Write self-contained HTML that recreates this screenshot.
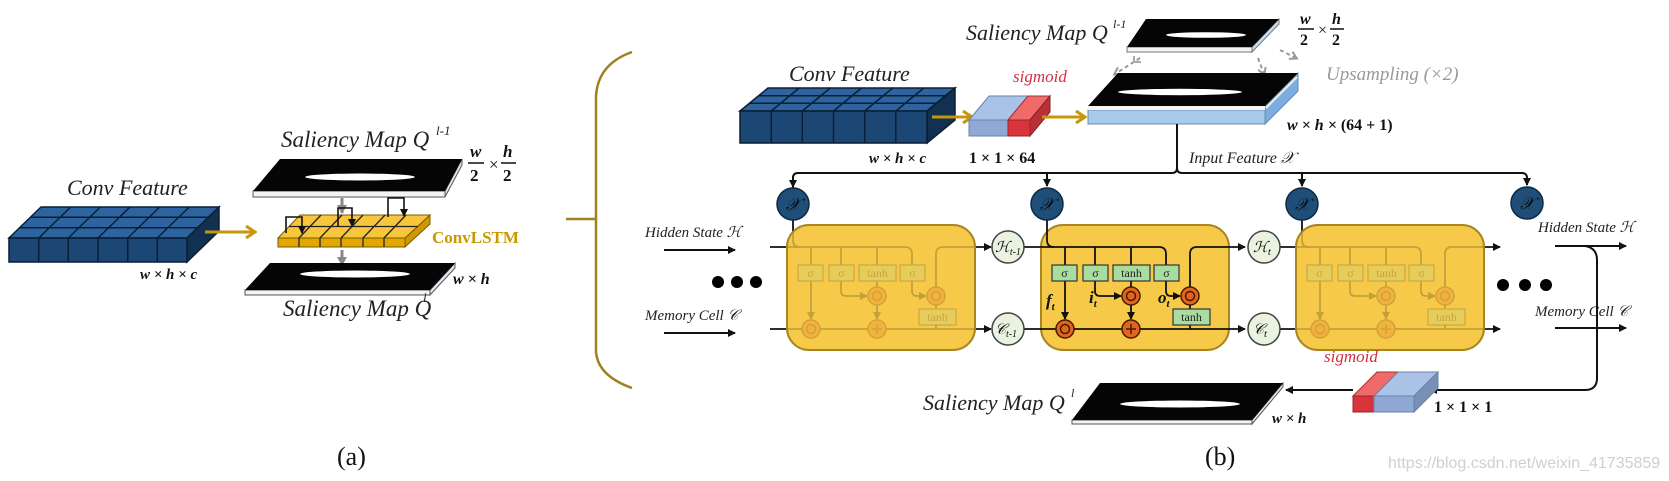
<!DOCTYPE html>
<html><head><meta charset="utf-8"><style>
html,body{margin:0;padding:0;background:#fff;}
svg{display:block;}
.it{font-family:"Liberation Serif",serif;font-style:italic;}
.bd{font-family:"Liberation Serif",serif;font-weight:bold;}
.bi{font-family:"Liberation Serif",serif;font-weight:bold;font-style:italic;}
</style></head><body>
<svg width="1669" height="481" viewBox="0 0 1669 481" xmlns="http://www.w3.org/2000/svg">
<defs>
<marker id="ab" markerWidth="8" markerHeight="8" refX="7" refY="4" orient="auto" markerUnits="userSpaceOnUse"><path d="M0,0 L8,4 L0,8 Z" fill="#111"/></marker>
<marker id="ag" markerWidth="12" markerHeight="14" refX="10" refY="7" orient="auto" markerUnits="userSpaceOnUse"><path d="M1,1 L10,7 L1,13" fill="none" stroke="#c8960a" stroke-width="3"/></marker>
<marker id="agr" markerWidth="10" markerHeight="10" refX="8" refY="5" orient="auto" markerUnits="userSpaceOnUse"><path d="M0,0 L9,5 L0,10 Z" fill="#888"/></marker>
<marker id="adash" markerWidth="10" markerHeight="10" refX="7" refY="5" orient="auto" markerUnits="userSpaceOnUse"><path d="M1,1 L8,5 L1,9" fill="none" stroke="#999" stroke-width="2"/></marker>
</defs>

<!-- ================= (a) ================= -->
<text x="67" y="195" class="it" font-size="22" fill="#222">Conv Feature</text>
<!-- conv block a -->
<polygon points="9,238 187,238 219,207 41,207" fill="#2d64a0" stroke="#0a1f35" stroke-width="1.5"/>
<polygon points="187,238 219,207 219,231 187,262" fill="#12304f" stroke="#0a1f35" stroke-width="1.5"/>
<rect x="9" y="238" width="178" height="24" fill="#1c4674" stroke="#0a1f35" stroke-width="1.5"/>
<g stroke="#0a1f35" stroke-width="1.5">
<line x1="38.7" y1="238" x2="38.7" y2="262"/><line x1="68.3" y1="238" x2="68.3" y2="262"/><line x1="98" y1="238" x2="98" y2="262"/><line x1="127.7" y1="238" x2="127.7" y2="262"/><line x1="157.3" y1="238" x2="157.3" y2="262"/>
<line x1="38.7" y1="238" x2="70.7" y2="207"/><line x1="68.3" y1="238" x2="100.3" y2="207"/><line x1="98" y1="238" x2="130" y2="207"/><line x1="127.7" y1="238" x2="159.7" y2="207"/><line x1="157.3" y1="238" x2="189.3" y2="207"/>
<line x1="19.7" y1="227.7" x2="197.7" y2="227.7"/><line x1="30.3" y1="217.3" x2="208.3" y2="217.3"/>
</g>
<line x1="205" y1="232" x2="255" y2="232" stroke="#c8960a" stroke-width="3" marker-end="url(#ag)"/>
<text x="140" y="279" class="bi" font-size="15" fill="#111">w × h × c</text>

<text x="281" y="147" class="it" font-size="23" fill="#222">Saliency Map Q</text>
<text x="436" y="135" class="it" font-size="13" fill="#222">l-1</text>
<!-- top map a -->
<polygon points="253,191 445,191 445,197 253,197" fill="#f4f4f4" stroke="#555" stroke-width="1"/>
<polygon points="445,191 462,159 462,165 445,197" fill="#e0e8f0" stroke="#555" stroke-width="1"/>
<polygon points="280,159 462,159 445,191 253,191" fill="#050505"/>
<ellipse cx="360" cy="177" rx="55" ry="3.5" fill="#fff"/>
<text x="470" y="157" class="bi" font-size="17" fill="#111">w</text>
<line x1="468" y1="163" x2="484" y2="163" stroke="#111" stroke-width="1.5"/>
<text x="470" y="181" class="bd" font-size="17" fill="#111">2</text>
<text x="489" y="170" font-family="Liberation Serif,serif" font-size="17" fill="#111">×</text>
<text x="503" y="157" class="bi" font-size="17" fill="#111">h</text>
<line x1="501" y1="163" x2="516" y2="163" stroke="#111" stroke-width="1.5"/>
<text x="503" y="181" class="bd" font-size="17" fill="#111">2</text>

<!-- convlstm grid -->
<line x1="342" y1="198" x2="342" y2="213" stroke="#888" stroke-width="3" marker-end="url(#agr)"/>
<polygon points="278,238 405,238 405,247 278,247" fill="#e3a800" stroke="#7a5a00" stroke-width="1"/>
<polygon points="405,238 430,215 430,224 405,247" fill="#d09800" stroke="#7a5a00" stroke-width="1"/>
<polygon points="300,215 430,215 405,238 278,238" fill="#f7c63c" stroke="#7a5a00" stroke-width="1"/>
<g stroke="#222" stroke-width="1.3">
<line x1="299" y1="238" x2="321" y2="215"/><line x1="320" y1="238" x2="342" y2="215"/><line x1="341" y1="238" x2="363" y2="215"/><line x1="363" y1="238" x2="385" y2="215"/><line x1="384" y1="238" x2="406" y2="215"/>
<line x1="289" y1="226.5" x2="418" y2="226.5"/>
<line x1="299" y1="238" x2="299" y2="247"/><line x1="320" y1="238" x2="320" y2="247"/><line x1="341" y1="238" x2="341" y2="247"/><line x1="363" y1="238" x2="363" y2="247"/><line x1="384" y1="238" x2="384" y2="247"/>
</g>
<g fill="none" stroke="#111" stroke-width="1.6">
<path d="M286,233 L286,217 L302,217 L302,233" marker-end="url(#ab)"/>
<path d="M338,226 L338,208 L352,208 L352,226" marker-end="url(#ab)"/>
<path d="M388,217 L388,198 L404,198 L404,216" marker-end="url(#ab)"/>
</g>
<text x="432" y="243" class="bd" font-size="17" fill="#c89a00">ConvLSTM</text>
<line x1="342" y1="250" x2="342" y2="265" stroke="#888" stroke-width="3" marker-end="url(#agr)"/>
<!-- bottom map a -->
<polygon points="245,290 430,290 430,295 245,295" fill="#f4f4f4" stroke="#555" stroke-width="1"/>
<polygon points="430,290 455,263 455,268 430,295" fill="#e0e8f0" stroke="#555" stroke-width="1"/>
<polygon points="270,263 455,263 430,290 245,290" fill="#050505"/>
<ellipse cx="355" cy="274" rx="55" ry="3.5" fill="#fff"/>
<text x="453" y="284" class="bi" font-size="16" fill="#111">w × h</text>
<text x="283" y="316" class="it" font-size="23" fill="#222">Saliency Map Q</text>
<text x="423" y="302" class="it" font-size="13" fill="#222">l</text>
<text x="337" y="465" font-family="Liberation Serif,serif" font-size="26" fill="#111">(a)</text>

<!-- ================= brace ================= -->
<path d="M632,52 Q598,64 596,96 L596,352 Q598,376 632,388" fill="none" stroke="#a08020" stroke-width="2.5"/>
<line x1="566" y1="219" x2="596" y2="219" stroke="#a08020" stroke-width="2.5"/>

<!-- ================= (b) top ================= -->
<text x="789" y="81" class="it" font-size="22" fill="#222">Conv Feature</text>
<polygon points="740,111 927,111 955,88 768,88" fill="#2d64a0" stroke="#0a1f35" stroke-width="1.5"/>
<polygon points="927,111 955,88 955,120 927,143" fill="#12304f" stroke="#0a1f35" stroke-width="1.5"/>
<rect x="740" y="111" width="187" height="32" fill="#1c4674" stroke="#0a1f35" stroke-width="1.5"/>
<g stroke="#0a1f35" stroke-width="1.5">
<line x1="771.2" y1="111" x2="771.2" y2="143"/><line x1="802.3" y1="111" x2="802.3" y2="143"/><line x1="833.5" y1="111" x2="833.5" y2="143"/><line x1="864.7" y1="111" x2="864.7" y2="143"/><line x1="895.8" y1="111" x2="895.8" y2="143"/>
<line x1="771.2" y1="111" x2="799.2" y2="88"/><line x1="802.3" y1="111" x2="830.3" y2="88"/><line x1="833.5" y1="111" x2="861.5" y2="88"/><line x1="864.7" y1="111" x2="892.7" y2="88"/><line x1="895.8" y1="111" x2="923.8" y2="88"/>
<line x1="749.3" y1="103.3" x2="936.3" y2="103.3"/><line x1="758.7" y1="95.7" x2="945.7" y2="95.7"/>
</g>
<line x1="932" y1="117" x2="972" y2="117" stroke="#c8960a" stroke-width="3" marker-end="url(#ag)"/>
<text x="869" y="163" class="bi" font-size="15" fill="#111">w × h × c</text>
<!-- sigmoid box top -->
<polygon points="969,120 1008,120 1028,96 989,96" fill="#a9c2e6" stroke="#6a82a8" stroke-width="1"/>
<polygon points="1008,120 1030,120 1050,96 1028,96" fill="#f06a6a" stroke="#a03030" stroke-width="1"/>
<polygon points="1030,120 1050,96 1050,112 1030,136" fill="#b83038" stroke="#802020" stroke-width="1"/>
<rect x="969" y="120" width="39" height="16" fill="#8fa8d4" stroke="#6a82a8" stroke-width="1"/>
<rect x="1008" y="120" width="22" height="16" fill="#d8343c" stroke="#a02028" stroke-width="1"/>
<text x="1013" y="82" class="it" font-size="17" fill="#d03040">sigmoid</text>
<text x="969" y="163" class="bd" font-size="16" fill="#111">1 × 1 × 64</text>
<line x1="1042" y1="117" x2="1085" y2="117" stroke="#c8960a" stroke-width="3" marker-end="url(#ag)"/>

<text x="966" y="40" class="it" font-size="22" fill="#222">Saliency Map Q</text>
<text x="1113" y="28" class="it" font-size="12" fill="#222">l-1</text>
<!-- small map -->
<polygon points="1127,47 1252,47 1252,52 1127,52" fill="#f4f4f4" stroke="#777" stroke-width="1"/>
<polygon points="1252,47 1279,19 1279,24 1252,52" fill="#c8dcf0" stroke="#777" stroke-width="1"/>
<polygon points="1146,19 1279,19 1252,47 1127,47" fill="#050505"/>
<ellipse cx="1206" cy="35" rx="40" ry="2.8" fill="#fff"/>
<text x="1300" y="24" class="bi" font-size="16" fill="#111">w</text>
<line x1="1298" y1="29" x2="1314" y2="29" stroke="#111" stroke-width="1.5"/>
<text x="1300" y="45" class="bd" font-size="16" fill="#111">2</text>
<text x="1318" y="35" font-family="Liberation Serif,serif" font-size="16" fill="#111">×</text>
<text x="1332" y="24" class="bi" font-size="16" fill="#111">h</text>
<line x1="1330" y1="29" x2="1344" y2="29" stroke="#111" stroke-width="1.5"/>
<text x="1332" y="45" class="bd" font-size="16" fill="#111">2</text>
<!-- dashed upsample -->
<g stroke="#999" stroke-width="2" fill="none" stroke-dasharray="4,3">
<line x1="1140" y1="58" x2="1115" y2="74" marker-end="url(#adash)"/>
<line x1="1258" y1="58" x2="1264" y2="74" marker-end="url(#adash)"/>
<line x1="1280" y1="50" x2="1296" y2="58" marker-end="url(#adash)"/>
</g>
<path d="M1134,56 L1134,62 L1141,62" stroke="#aaa" stroke-width="2" fill="none"/>
<!-- big map -->
<rect x="1088" y="110" width="177" height="14" fill="#a9cbeb" stroke="#6a8ab0" stroke-width="1"/>
<polygon points="1265,106 1298,73 1298,91 1265,124" fill="#7aaee0" stroke="#6a8ab0" stroke-width="1"/>
<rect x="1088" y="106" width="177" height="4" fill="#f4f4f4"/>
<polygon points="1118,73 1298,73 1265,106 1088,106" fill="#050505"/>
<line x1="1266" y1="108" x2="1297" y2="77" stroke="#eee" stroke-width="2"/>
<ellipse cx="1180" cy="92" rx="62" ry="3.2" fill="#fff"/>
<text x="1326" y="80" class="it" font-size="19" fill="#999">Upsampling (×2)</text>
<text x="1287" y="130" class="bi" font-size="16" fill="#111">w × h × <tspan font-style="normal">(64 + 1)</tspan></text>
<line x1="1177" y1="124" x2="1177" y2="168" stroke="#111" stroke-width="2"/>
<text x="1189" y="163" class="it" font-size="16" fill="#222">Input Feature 𝒳</text>
<path d="M793,188 L793,178 Q793,173 798,173 L1172,173 Q1177,173 1177,168 Q1177,173 1182,173 L1522,173 Q1527,173 1527,178 L1527,185" fill="none" stroke="#111" stroke-width="2" marker-end="url(#ab)"/>
<line x1="793" y1="176" x2="793" y2="187" stroke="#111" stroke-width="2" marker-end="url(#ab)"/>
<line x1="1047" y1="173" x2="1047" y2="186" stroke="#111" stroke-width="2" marker-end="url(#ab)"/>
<line x1="1302" y1="173" x2="1302" y2="186" stroke="#111" stroke-width="2" marker-end="url(#ab)"/>

<!-- left labels -->
<text x="645" y="237" class="it" font-size="15" fill="#222">Hidden State ℋ</text>
<line x1="664" y1="250" x2="735" y2="250" stroke="#111" stroke-width="2" marker-end="url(#ab)"/>
<circle cx="718" cy="282" r="6" fill="#000"/><circle cx="737" cy="282" r="6" fill="#000"/><circle cx="756" cy="282" r="6" fill="#000"/>
<text x="645" y="320" class="it" font-size="15" fill="#222">Memory Cell 𝒞</text>
<line x1="664" y1="333" x2="735" y2="333" stroke="#111" stroke-width="2" marker-end="url(#ab)"/>

<!-- ================= cells ================= -->
<!-- cell template drawn 3 times -->
<g transform="translate(787,0)">
<rect x="0" y="225" width="188" height="125" rx="22" fill="#f7c948"/>
<g fill="none" stroke="#111" stroke-width="1.8">
<path d="M-17,247 L118,247 Q125,247 125,254 L125,265"/>
<path d="M6,219 L6,240 Q6,247 13,247"/>
<line x1="24" y1="247" x2="24" y2="265"/><line x1="54" y1="247" x2="54" y2="265"/><line x1="90" y1="247" x2="90" y2="265"/>
<line x1="24" y1="281" x2="24" y2="319" marker-end="url(#ab)"/>
<path d="M54,281 L54,291 Q54,296 59,296 L80,296" marker-end="url(#ab)"/>
<line x1="90" y1="281" x2="90" y2="287"/>
<line x1="90" y1="305" x2="90" y2="319" marker-end="url(#ab)"/>
<path d="M125,281 L125,291 Q125,296 130,296 L139,296" marker-end="url(#ab)"/>
<path d="M149,287 L149,254 Q149,247 156,247 L204,247" marker-end="url(#ab)"/>
<line x1="-17" y1="329" x2="204" y2="329" marker-end="url(#ab)"/>
<line x1="149" y1="305" x2="149" y2="329"/>
</g>
<g fill="#a9dca0" stroke="#333" stroke-width="1.2">
<rect x="11" y="265" width="25" height="16"/><rect x="42" y="265" width="25" height="16"/><rect x="72" y="265" width="37" height="16"/><rect x="113" y="265" width="25" height="16"/><rect x="132" y="309" width="37" height="16"/>
</g>
<g font-family="Liberation Serif,serif" font-size="12" fill="#222" text-anchor="middle">
<text x="23.5" y="277">σ</text><text x="54.5" y="277">σ</text><text x="90.5" y="277">tanh</text><text x="125.5" y="277">σ</text><text x="150.5" y="321">tanh</text>
</g>
<g fill="#e0661e" stroke="#4a1a00" stroke-width="1.5">
<circle cx="24" cy="329" r="9"/><circle cx="90" cy="296" r="9"/><circle cx="90" cy="329" r="9"/><circle cx="149" cy="296" r="9"/>
</g>
<g fill="none" stroke="#4a1a00" stroke-width="1.5"><circle cx="24" cy="329" r="4.5"/><circle cx="90" cy="296" r="4.5"/><circle cx="149" cy="296" r="4.5"/><path d="M85,329 L95,329 M90,324 L90,334"/></g>
<rect x="0" y="225" width="188" height="125" rx="22" fill="#f7c948" fill-opacity="0.78" stroke="#a88520" stroke-width="2"/>
</g>

<g transform="translate(1041,0)">
<rect x="0" y="225" width="188" height="125" rx="22" fill="#f7c948" stroke="#a88520" stroke-width="2"/>
<g fill="none" stroke="#111" stroke-width="1.8">
<path d="M-17,247 L118,247 Q125,247 125,254 L125,265"/>
<path d="M6,219 L6,240 Q6,247 13,247"/>
<line x1="24" y1="247" x2="24" y2="265"/><line x1="54" y1="247" x2="54" y2="265"/><line x1="90" y1="247" x2="90" y2="265"/>
<line x1="24" y1="281" x2="24" y2="319" marker-end="url(#ab)"/>
<path d="M54,281 L54,291 Q54,296 59,296 L80,296" marker-end="url(#ab)"/>
<line x1="90" y1="281" x2="90" y2="287"/>
<line x1="90" y1="305" x2="90" y2="319" marker-end="url(#ab)"/>
<path d="M125,281 L125,291 Q125,296 130,296 L139,296" marker-end="url(#ab)"/>
<path d="M149,287 L149,254 Q149,247 156,247 L204,247" marker-end="url(#ab)"/>
<line x1="-17" y1="329" x2="204" y2="329" marker-end="url(#ab)"/>
<line x1="149" y1="305" x2="149" y2="329"/>
</g>
<g fill="#a9dca0" stroke="#333" stroke-width="1.2">
<rect x="11" y="265" width="25" height="16"/><rect x="42" y="265" width="25" height="16"/><rect x="72" y="265" width="37" height="16"/><rect x="113" y="265" width="25" height="16"/><rect x="132" y="309" width="37" height="16"/>
</g>
<g font-family="Liberation Serif,serif" font-size="12" fill="#222" text-anchor="middle">
<text x="23.5" y="277">σ</text><text x="54.5" y="277">σ</text><text x="90.5" y="277">tanh</text><text x="125.5" y="277">σ</text><text x="150.5" y="321">tanh</text>
</g>
<g fill="#e0661e" stroke="#4a1a00" stroke-width="1.5">
<circle cx="24" cy="329" r="9"/><circle cx="90" cy="296" r="9"/><circle cx="90" cy="329" r="9"/><circle cx="149" cy="296" r="9"/>
</g>
<g fill="none" stroke="#4a1a00" stroke-width="1.5"><circle cx="24" cy="329" r="4.5"/><circle cx="90" cy="296" r="4.5"/><circle cx="149" cy="296" r="4.5"/><path d="M85,329 L95,329 M90,324 L90,334"/></g>
<text x="5" y="306" class="bi" font-size="17" fill="#111">f<tspan font-size="11" dy="4">t</tspan></text>
<text x="48" y="303" class="bi" font-size="17" fill="#111">i<tspan font-size="11" dy="4">t</tspan></text>
<text x="117" y="303" class="bi" font-size="17" fill="#111">o<tspan font-size="11" dy="4">t</tspan></text>
</g>

<g transform="translate(1296,0)">
<rect x="0" y="225" width="188" height="125" rx="22" fill="#f7c948"/>
<g fill="none" stroke="#111" stroke-width="1.8">
<path d="M-17,247 L118,247 Q125,247 125,254 L125,265"/>
<path d="M6,219 L6,240 Q6,247 13,247"/>
<line x1="24" y1="247" x2="24" y2="265"/><line x1="54" y1="247" x2="54" y2="265"/><line x1="90" y1="247" x2="90" y2="265"/>
<line x1="24" y1="281" x2="24" y2="319" marker-end="url(#ab)"/>
<path d="M54,281 L54,291 Q54,296 59,296 L80,296" marker-end="url(#ab)"/>
<line x1="90" y1="281" x2="90" y2="287"/>
<line x1="90" y1="305" x2="90" y2="319" marker-end="url(#ab)"/>
<path d="M125,281 L125,291 Q125,296 130,296 L139,296" marker-end="url(#ab)"/>
<path d="M149,287 L149,254 Q149,247 156,247 L204,247" marker-end="url(#ab)"/>
<line x1="-17" y1="329" x2="204" y2="329" marker-end="url(#ab)"/>
<line x1="149" y1="305" x2="149" y2="329"/>
</g>
<g fill="#a9dca0" stroke="#333" stroke-width="1.2">
<rect x="11" y="265" width="25" height="16"/><rect x="42" y="265" width="25" height="16"/><rect x="72" y="265" width="37" height="16"/><rect x="113" y="265" width="25" height="16"/><rect x="132" y="309" width="37" height="16"/>
</g>
<g font-family="Liberation Serif,serif" font-size="12" fill="#222" text-anchor="middle">
<text x="23.5" y="277">σ</text><text x="54.5" y="277">σ</text><text x="90.5" y="277">tanh</text><text x="125.5" y="277">σ</text><text x="150.5" y="321">tanh</text>
</g>
<g fill="#e0661e" stroke="#4a1a00" stroke-width="1.5">
<circle cx="24" cy="329" r="9"/><circle cx="90" cy="296" r="9"/><circle cx="90" cy="329" r="9"/><circle cx="149" cy="296" r="9"/>
</g>
<g fill="none" stroke="#4a1a00" stroke-width="1.5"><circle cx="24" cy="329" r="4.5"/><circle cx="90" cy="296" r="4.5"/><circle cx="149" cy="296" r="4.5"/><path d="M85,329 L95,329 M90,324 L90,334"/></g>
<rect x="0" y="225" width="188" height="125" rx="22" fill="#f7c948" fill-opacity="0.78" stroke="#a88520" stroke-width="2"/>
</g>

<!-- X circles -->
<g fill="#1f4e79" stroke="#0d2a45" stroke-width="1.5">
<circle cx="793" cy="204" r="16"/><circle cx="1047" cy="204" r="16"/><circle cx="1302" cy="204" r="16"/><circle cx="1527" cy="203" r="16"/>
</g>
<g class="it" font-size="17" fill="#0a0a0a" text-anchor="middle">
<text x="793" y="210">𝒳</text><text x="1047" y="210">𝒳</text><text x="1302" y="210">𝒳</text><text x="1527" y="209">𝒳</text>
</g>
<!-- H/C circles -->
<g fill="#e9f3df" stroke="#444" stroke-width="1.5">
<circle cx="1008" cy="247" r="16"/><circle cx="1008" cy="329" r="16"/><circle cx="1264" cy="247" r="16"/><circle cx="1264" cy="329" r="16"/>
</g>
<g class="it" font-size="15" fill="#111">
<text x="995" y="252">ℋ<tspan font-size="10" dy="3">t-1</tspan></text>
<text x="995" y="334">𝒞<tspan font-size="10" dy="3">t-1</tspan></text>
<text x="1253" y="252">ℋ<tspan font-size="11" dy="3">t</tspan></text>
<text x="1253" y="334">𝒞<tspan font-size="11" dy="3">t</tspan></text>
</g>

<!-- right side -->
<circle cx="1503" cy="285" r="6" fill="#000"/><circle cx="1525" cy="285" r="6" fill="#000"/><circle cx="1546" cy="285" r="6" fill="#000"/>
<text x="1538" y="232" class="it" font-size="15" fill="#222">Hidden State ℋ</text>
<text x="1535" y="316" class="it" font-size="15" fill="#222">Memory Cell 𝒞</text>
<line x1="1555" y1="246" x2="1626" y2="246" stroke="#111" stroke-width="2" marker-end="url(#ab)"/>
<line x1="1555" y1="328" x2="1626" y2="328" stroke="#111" stroke-width="2" marker-end="url(#ab)"/>
<path d="M1585,246 Q1597,248 1597,260 L1597,378 Q1597,390 1585,390 L1430,390" fill="none" stroke="#111" stroke-width="2" marker-end="url(#ab)"/>

<!-- bottom sigmoid box -->
<polygon points="1353,396 1374,396 1398,372 1377,372" fill="#f06a6a" stroke="#a03030" stroke-width="1"/>
<polygon points="1374,396 1414,396 1438,372 1398,372" fill="#a9c2e6" stroke="#6a82a8" stroke-width="1"/>
<polygon points="1414,396 1438,372 1438,388 1414,412" fill="#7890b8" stroke="#6a82a8" stroke-width="1"/>
<rect x="1353" y="396" width="21" height="16" fill="#d8343c" stroke="#a02028" stroke-width="1"/>
<rect x="1374" y="396" width="40" height="16" fill="#8fa8d4" stroke="#6a82a8" stroke-width="1"/>
<text x="1324" y="362" class="it" font-size="17" fill="#d03040">sigmoid</text>
<text x="1434" y="412" class="bd" font-size="16" fill="#111">1 × 1 × 1</text>
<line x1="1353" y1="390" x2="1286" y2="390" stroke="#111" stroke-width="2" marker-end="url(#ab)"/>

<!-- bottom map b -->
<polygon points="1072,420 1252,420 1252,424 1072,424" fill="#f4f4f4" stroke="#555" stroke-width="1"/>
<polygon points="1252,420 1283,383 1283,387 1252,424" fill="#e8e8e8" stroke="#555" stroke-width="1"/>
<polygon points="1100,383 1283,383 1252,420 1072,420" fill="#050505"/>
<ellipse cx="1180" cy="404" rx="60" ry="3.5" fill="#fff"/>
<text x="923" y="410" class="it" font-size="22" fill="#222">Saliency Map Q</text>
<text x="1071" y="397" class="it" font-size="12" fill="#222">l</text>
<text x="1272" y="423" class="bi" font-size="15" fill="#111">w × h</text>

<text x="1205" y="465" font-family="Liberation Serif,serif" font-size="26" fill="#111">(b)</text>
<text x="1388" y="468" font-family="Liberation Sans,sans-serif" font-size="16" fill="#cfcfcf">https://blog.csdn.net/weixin_41735859</text>
</svg>
</body></html>
